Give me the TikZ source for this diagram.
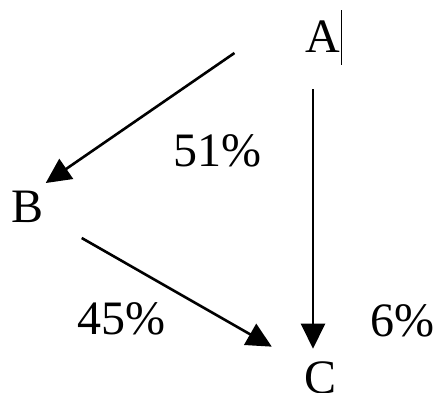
\documentclass[tikz,border=0pt]{standalone}
\usepackage{fontspec}
\setmainfont{Liberation Serif}
\usetikzlibrary{arrows.meta,positioning}
\tikzset{
  % letters and shares
  lbl/.style={inner sep=0pt,font=\fontsize{48}{48}\selectfont},
  % arrow
  arr/.style={-{Triangle[length=25pt,width=24pt]},line width=2.6pt},
}
\begin{document}
\begin{tikzpicture}[x=1pt,y=-1pt]
  \useasboundingbox (0,0) rectangle (439,392);

  % letters
  \node[lbl] (A) at (323,37)  {A};
  \node[lbl] (B) at (27.5,207) {B};
  \node[lbl] (C) at (321,378) {C};

  % shares
  \node[lbl] (pAB) at (217,151) {51\%};
  \node[lbl] (pBC) at (121,319) {45\%};
  \node[lbl] (pAC) at (402,321) {6\%};

  % cursor bar
  \draw[line width=1.8pt] ([shift={(1,-27)}]A.east) -- ([shift={(1,28)}]A.east);

  % arrows
  \draw[arr] ([shift={(-71,16)}]A.west) -- ([shift={(2,-8)}]B.north east);
  \draw[arr] ([shift={(-10,36)}]A.south) -- ([shift={(-8,-13)}]C.north);
  \draw[arr] ([shift={(38,15)}]B.south east) -- ([shift={(-33,-15)}]C.north west);
\end{tikzpicture}
\end{document}
